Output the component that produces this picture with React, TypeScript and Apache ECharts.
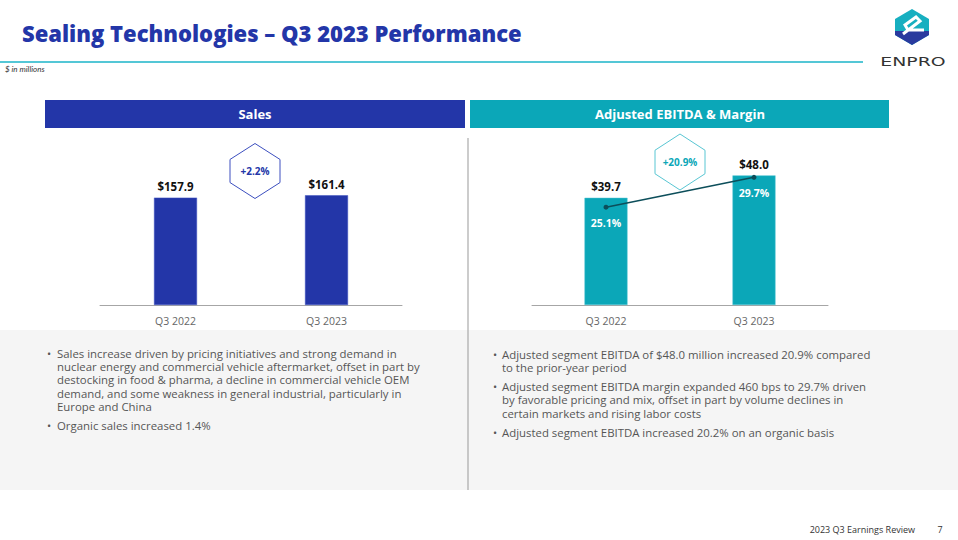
import React, { useEffect, useRef } from "react";
import * as echarts from "echarts";

const categories = ["Q3 2022", "Q3 2023"];
const salesValues = [157.9, 161.4];
const ebitdaValues = [39.7, 48.0];
const marginValues = [25.1, 29.7];
const salesGrowth = "+2.2%";
const ebitdaGrowth = "+20.9%";

const leftBullets = [
  ["Sales increase driven by pricing initiatives and strong demand in",
   "nuclear energy and commercial vehicle aftermarket, offset in part by",
   "destocking in food & pharma, a decline in commercial vehicle OEM",
   "demand, and some weakness in general industrial, particularly in",
   "Europe and China"],
  ["Organic sales increased 1.4%"],
];
const rightBullets = [
  ["Adjusted segment EBITDA of $48.0 million increased 20.9% compared",
   "to the prior-year period"],
  ["Adjusted segment EBITDA margin expanded 460 bps to 29.7% driven",
   "by favorable pricing and mix, offset in part by volume declines in",
   "certain markets and rising labor costs"],
  ["Adjusted segment EBITDA increased 20.2% on an organic basis"],
];

const BLUE = "#2336A8";
const TEAL = "#0BA7B8";
const FONT = "'Open Sans', Lato, sans-serif";

function txt(text: string, x: number, y: number, o: any = {}) {
  const align = o.align || "left";
  const va = o.va || "middle";
  return {
    type: "text",
    x, y,
    scaleX: o.scaleX || 1,
    silent: true,
    z: o.z || 10,
    style: {
      text,
      fill: o.fill || "#555",
      fontSize: o.size || 11,
      fontWeight: o.weight || "normal",
      fontStyle: o.italic ? "italic" : "normal",
      fontFamily: o.family || FONT,
      textAlign: align, align,
      textVerticalAlign: va, verticalAlign: va,
    },
  };
}

function hexagon(cx: number, cy: number, hw: number, hh: number, color: string) {
  const side = hh * 0.42;
  return {
    type: "polygon",
    silent: true,
    shape: {
      points: [
        [cx, cy - hh], [cx + hw, cy - side], [cx + hw, cy + side],
        [cx, cy + hh], [cx - hw, cy + side], [cx - hw, cy - side],
      ],
    },
    style: { fill: "#fff", stroke: color, lineWidth: 1 },
    z: 5,
  };
}

function bulletBlock(blocks: string[][], bx: number, tx: number, y0: number, lh: number, gap: number) {
  const out: any[] = [];
  let y = y0;
  blocks.forEach((lines) => {
    out.push(txt("•", bx, y, { size: 11, fill: "#555" }));
    lines.forEach((l) => {
      out.push(txt(l, tx, y, { size: 11.4, fill: "#555" }));
      y += lh;
    });
    y += gap;
  });
  return out;
}

export default function App() {
  const ref = useRef<HTMLDivElement>(null);
  useEffect(() => {
    if (!ref.current) return;
    const chart = echarts.init(ref.current, undefined, { renderer: "svg" });
    const lx = 912, ly = 27;
    const graphics: any[] = [
      { type: "rect", silent: true, z: 0, shape: { x: 0, y: 330, width: 958, height: 160 }, style: { fill: "#F5F5F5" } },
      txt("Sealing Technologies – Q3 2023 Performance", 22, 33, { size: 22, weight: 800, fill: BLUE }),
      { type: "line", silent: true, shape: { x1: 0, y1: 62, x2: 863, y2: 62 }, style: { stroke: "#1BB5C9", lineWidth: 1.5 } },
      txt("$ in millions", 5, 69, { size: 8, italic: true, fill: "#333", family: "Lato, sans-serif" }),
      // logo
      { type: "polygon", silent: true, shape: { points: [[lx, ly - 18], [lx + 17, ly - 8], [lx + 17, ly + 8], [lx, ly + 18], [lx - 17, ly + 8], [lx - 17, ly - 8]] }, style: { fill: "#17AFC0" } },
      { type: "polygon", silent: true, shape: { points: [[lx - 17, ly + 4], [lx + 17, ly + 4], [lx + 17, ly + 8], [lx, ly + 18], [lx - 17, ly + 8]] }, style: { fill: "#2A3A9E" } },
      { type: "polyline", silent: true, z: 11, shape: { points: [[lx - 9, ly + 7], [lx + 8, ly - 6], [lx + 4, ly - 10], [lx - 7, ly - 2], [lx - 4, ly + 3], [lx + 12, ly + 3]] }, style: { stroke: "#fff", lineWidth: 3, fill: "none" } },
      txt("ENPRO", 913, 62, { size: 13, fill: "#333", align: "center", family: "'DejaVu Sans', sans-serif", scaleX: 1.45 }),
      // headers
      { type: "rect", silent: true, shape: { x: 45, y: 100, width: 420, height: 28 }, style: { fill: BLUE } },
      txt("Sales", 255, 114, { size: 13, weight: "bold", fill: "#fff", align: "center" }),
      { type: "rect", silent: true, shape: { x: 470, y: 100, width: 419, height: 28 }, style: { fill: TEAL } },
      txt("Adjusted EBITDA & Margin", 680, 114, { size: 13, weight: "bold", fill: "#fff", align: "center" }),
      { type: "line", silent: true, z: 3, shape: { x1: 468, y1: 138, x2: 468, y2: 490 }, style: { stroke: "#999", lineWidth: 1 } },
      hexagon(255, 171, 25, 27.5, "#3C4FBF"),
      txt(salesGrowth, 255, 171, { size: 10, weight: "bold", fill: BLUE, align: "center" }),
      hexagon(680, 162, 25, 28, "#58C6D3"),
      txt(ebitdaGrowth, 680, 162, { size: 10, weight: "bold", fill: TEAL, align: "center" }),
      txt("2023 Q3 Earnings Review", 915, 529, { size: 9, fill: "#333", align: "right" }),
      txt("7", 940, 529, { size: 9, fill: "#333", align: "center" }),
      ...bulletBlock(leftBullets, 47, 57, 353, 13.4, 5.5),
      ...bulletBlock(rightBullets, 493, 502, 354, 13.4, 5.5),
    ];

    const axisLabel = { color: "#666", fontSize: 10.5, margin: 10, fontFamily: FONT };
    const barLabel = { show: true, position: "top", distance: 5, color: "#111", fontWeight: "bold", fontSize: 11.5, fontFamily: FONT, formatter: (p: any) => "$" + p.value.toFixed(1) };

    chart.setOption({
      animation: false,
      backgroundColor: "#fff",
      grid: [
        { left: 100, width: 302, top: 135, height: 170 },
        { left: 532, width: 296, top: 143, height: 162 },
      ],
      xAxis: [
        { type: "category", gridIndex: 0, data: categories, axisTick: { show: false }, axisLine: { lineStyle: { color: "#A6A6A6" } }, axisLabel },
        { type: "category", gridIndex: 1, data: categories, axisTick: { show: false }, axisLine: { lineStyle: { color: "#A6A6A6" } }, axisLabel },
      ],
      yAxis: [
        { type: "value", gridIndex: 0, min: 0, max: 250, show: false, splitLine: { show: false } },
        { type: "value", gridIndex: 1, min: 0, max: 60, show: false, splitLine: { show: false } },
        { type: "value", gridIndex: 1, min: 10, max: 35, show: false, splitLine: { show: false } },
      ],
      series: [
        {
          type: "bar", xAxisIndex: 0, yAxisIndex: 0, data: salesValues, barWidth: 43,
          itemStyle: { color: BLUE, borderColor: "#3F52C0", borderWidth: 0.5 },
          label: barLabel,
        },
        {
          type: "bar", xAxisIndex: 1, yAxisIndex: 1, data: ebitdaValues, barWidth: 43,
          itemStyle: { color: TEAL, borderColor: "#4CC3D1", borderWidth: 0.5 },
          label: barLabel,
        },
        {
          type: "line", xAxisIndex: 1, yAxisIndex: 2, data: marginValues, z: 5,
          symbol: "circle", symbolSize: 5,
          lineStyle: { color: "#0C4E5A", width: 1.5 },
          itemStyle: { color: "#0C4E5A" },
          label: { show: true, position: "bottom", distance: 8, color: "#fff", fontWeight: "bold", fontSize: 10.5, fontFamily: FONT, formatter: (p: any) => p.value.toFixed(1) + "%" },
        },
      ],
      graphic: graphics,
    });
    return () => chart.dispose();
  }, []);
  return <div ref={ref} style={{ position: "absolute", left: 0, top: 0, width: 958, height: 540 }} />;
}
